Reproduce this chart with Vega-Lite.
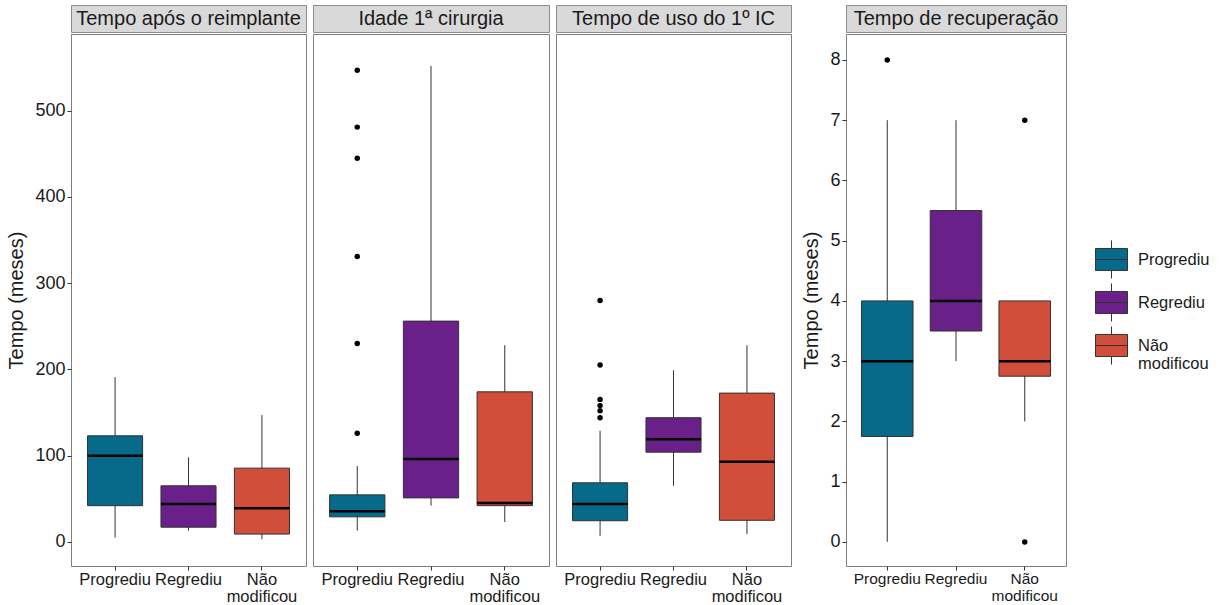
{
  "$schema": "https://vega.github.io/schema/vega-lite/v6.json",
  "padding": {"left": 6, "top": 4, "right": 5, "bottom": 0},
  "config": {
    "font": "Liberation Sans",
    "view": {"stroke": "#7f7f7f", "strokeWidth": 1},
    "axis": {"grid": false, "domain": false, "tickColor": "#333333", "tickSize": 4, "labelColor": "#1a1a1a", "titleColor": "#1a1a1a", "titleFontWeight": "normal", "titleFontSize": 20, "labelPadding": 1, "labelLineHeight": 17}
  },
  "datasets": {
    "caixas": [
      {"painel": "Tempo após o reimplante", "grupo": "Progrediu", "minimo": 5, "q1": 42, "mediana": 100, "q3": 123, "maximo": 191},
      {"painel": "Tempo após o reimplante", "grupo": "Regrediu", "minimo": 13, "q1": 17, "mediana": 44, "q3": 65, "maximo": 98},
      {"painel": "Tempo após o reimplante", "grupo": "Não modificou", "minimo": 3, "q1": 9, "mediana": 39, "q3": 85.5, "maximo": 147},
      {"painel": "Idade 1ª cirurgia", "grupo": "Progrediu", "minimo": 13, "q1": 29, "mediana": 35.5, "q3": 54.5, "maximo": 88},
      {"painel": "Idade 1ª cirurgia", "grupo": "Regrediu", "minimo": 42, "q1": 51, "mediana": 96, "q3": 256, "maximo": 552},
      {"painel": "Idade 1ª cirurgia", "grupo": "Não modificou", "minimo": 23, "q1": 42, "mediana": 45, "q3": 174, "maximo": 228},
      {"painel": "Tempo de uso do 1º IC", "grupo": "Progrediu", "minimo": 7, "q1": 24.5, "mediana": 44, "q3": 68.5, "maximo": 129},
      {"painel": "Tempo de uso do 1º IC", "grupo": "Regrediu", "minimo": 65, "q1": 104, "mediana": 119, "q3": 144, "maximo": 199},
      {"painel": "Tempo de uso do 1º IC", "grupo": "Não modificou", "minimo": 9, "q1": 25, "mediana": 93, "q3": 172.5, "maximo": 228},
      {"painel": "Tempo de recuperação", "grupo": "Progrediu", "minimo": 0, "q1": 1.75, "mediana": 3, "q3": 4, "maximo": 7},
      {"painel": "Tempo de recuperação", "grupo": "Regrediu", "minimo": 3, "q1": 3.5, "mediana": 4, "q3": 5.5, "maximo": 7},
      {"painel": "Tempo de recuperação", "grupo": "Não modificou", "minimo": 2, "q1": 2.75, "mediana": 3, "q3": 4, "maximo": 4}
    ],
    "atipicos": [
      {"painel": "Idade 1ª cirurgia", "grupo": "Progrediu", "valor": 547},
      {"painel": "Idade 1ª cirurgia", "grupo": "Progrediu", "valor": 481},
      {"painel": "Idade 1ª cirurgia", "grupo": "Progrediu", "valor": 445},
      {"painel": "Idade 1ª cirurgia", "grupo": "Progrediu", "valor": 331},
      {"painel": "Idade 1ª cirurgia", "grupo": "Progrediu", "valor": 230},
      {"painel": "Idade 1ª cirurgia", "grupo": "Progrediu", "valor": 126},
      {"painel": "Tempo de uso do 1º IC", "grupo": "Progrediu", "valor": 280},
      {"painel": "Tempo de uso do 1º IC", "grupo": "Progrediu", "valor": 205},
      {"painel": "Tempo de uso do 1º IC", "grupo": "Progrediu", "valor": 165},
      {"painel": "Tempo de uso do 1º IC", "grupo": "Progrediu", "valor": 158},
      {"painel": "Tempo de uso do 1º IC", "grupo": "Progrediu", "valor": 152},
      {"painel": "Tempo de uso do 1º IC", "grupo": "Progrediu", "valor": 144},
      {"painel": "Tempo de recuperação", "grupo": "Progrediu", "valor": 8},
      {"painel": "Tempo de recuperação", "grupo": "Não modificou", "valor": 7},
      {"painel": "Tempo de recuperação", "grupo": "Não modificou", "valor": 0}
    ],
    "paineis": [
      {"painel": "Tempo após o reimplante"},
      {"painel": "Idade 1ª cirurgia"},
      {"painel": "Tempo de uso do 1º IC"},
      {"painel": "Tempo de recuperação"}
    ]
  },
  "resolve": {"scale": {"x": "independent", "y": "independent"}},
  "spacing": 9,
  "hconcat": [
    {
      "spacing": 5,
      "resolve": {"scale": {"x": "independent", "y": "independent"}},
      "hconcat": [
        {
          "spacing": 0,
          "vconcat": [
            {
              "width": 235, "height": 27,
              "view": {"fill": "#d9d9d9", "stroke": "#8c8c8c"},
              "data": {"name": "paineis"},
              "transform": [{"filter": "datum.painel == 'Tempo após o reimplante'"}],
              "mark": {"type": "text", "fontSize": 20, "color": "#1a1a1a"},
              "encoding": {"text": {"field": "painel"}}
            },
            {
              "width": 235, "height": 532,
              "layer": [
                {
                  "data": {"name": "caixas"},
                  "transform": [{"filter": "datum.painel == 'Tempo após o reimplante'"}],
                  "layer": [
                    {"mark": {"type": "rule", "color": "#333333", "strokeWidth": 1},
                     "encoding": {"y": {"field": "minimo", "type": "quantitative"}, "y2": {"field": "maximo"}}},
                    {"mark": {"type": "bar", "width": {"band": 0.75}, "stroke": "#333333", "strokeWidth": 1, "opacity": 1},
                     "encoding": {"y": {"field": "q1", "type": "quantitative"}, "y2": {"field": "q3"},
                       "color": {"field": "grupo", "type": "nominal", "title": null, "scale": {"domain": ["Progrediu", "Regrediu", "Não modificou"], "range": ["#076a8b", "#6a2089", "#d04e3a"]},
                         "legend": {"title": null, "orient": "none", "legendX": 1024, "legendY": 238, "symbolType": "M-1,-0.69H1V0.69H-1Z M-1,0H1 M0,-0.69V-1.19 M0,0.69V1.19", "symbolSize": 1024, "symbolStrokeColor": "#333333", "symbolStrokeWidth": 1, "symbolOpacity": 1, "labelFontSize": 16.5, "labelColor": "#1a1a1a", "labelOffset": 10, "rowPadding": 0, "labelLineHeight": 18, "labelExpr": "datum.label == 'Não modificou' ? ['Não', 'modificou'] : datum.label"}}}},
                    {"mark": {"type": "tick", "color": "#000000", "thickness": 2.5, "size": 55, "opacity": 1},
                     "encoding": {"y": {"field": "mediana", "type": "quantitative"}}}
                  ]
                },
                {
                  "data": {"name": "atipicos"},
                  "transform": [{"filter": "datum.painel == 'Tempo após o reimplante'"}],
                  "mark": {"type": "point", "filled": true, "color": "#000000", "size": 30, "opacity": 1},
                  "encoding": {"y": {"field": "valor", "type": "quantitative"}}
                }
              ],
              "encoding": {
                "x": {"field": "grupo", "type": "nominal", "title": null, "sort": ["Progrediu", "Regrediu", "Não modificou"],
                  "scale": {"domain": ["Progrediu", "Regrediu", "Não modificou"], "paddingInner": 0, "paddingOuter": 0.1},
                  "axis": {"labelAngle": 0, "labelFontSize": 16.5, "bandPosition": 0.5, "labelExpr": "datum.label == 'Não modificou' ? ['Não', 'modificou'] : datum.label"}},
                "y": {"type": "quantitative", "scale": {"domain": [-28, 589], "nice": false, "zero": false},
                  "axis": {"values": [0, 100, 200, 300, 400, 500], "labelFontSize": 18, "labelPadding": 2, "title": "Tempo (meses)", "titlePadding": 8}}
              }
            }
          ]
        },
        {
          "spacing": 0,
          "vconcat": [
            {
              "width": 236, "height": 27,
              "view": {"fill": "#d9d9d9", "stroke": "#8c8c8c"},
              "data": {"name": "paineis"},
              "transform": [{"filter": "datum.painel == 'Idade 1ª cirurgia'"}],
              "mark": {"type": "text", "fontSize": 20, "color": "#1a1a1a"},
              "encoding": {"text": {"field": "painel"}}
            },
            {
              "width": 236, "height": 532,
              "layer": [
                {
                  "data": {"name": "caixas"},
                  "transform": [{"filter": "datum.painel == 'Idade 1ª cirurgia'"}],
                  "layer": [
                    {"mark": {"type": "rule", "color": "#333333", "strokeWidth": 1},
                     "encoding": {"y": {"field": "minimo", "type": "quantitative"}, "y2": {"field": "maximo"}}},
                    {"mark": {"type": "bar", "width": {"band": 0.75}, "stroke": "#333333", "strokeWidth": 1, "opacity": 1},
                     "encoding": {"y": {"field": "q1", "type": "quantitative"}, "y2": {"field": "q3"},
                       "color": {"field": "grupo", "type": "nominal", "title": null, "scale": {"domain": ["Progrediu", "Regrediu", "Não modificou"], "range": ["#076a8b", "#6a2089", "#d04e3a"]},
                         "legend": {"title": null, "orient": "none", "legendX": 1024, "legendY": 238, "symbolType": "M-1,-0.69H1V0.69H-1Z M-1,0H1 M0,-0.69V-1.19 M0,0.69V1.19", "symbolSize": 1024, "symbolStrokeColor": "#333333", "symbolStrokeWidth": 1, "symbolOpacity": 1, "labelFontSize": 16.5, "labelColor": "#1a1a1a", "labelOffset": 10, "rowPadding": 0, "labelLineHeight": 18, "labelExpr": "datum.label == 'Não modificou' ? ['Não', 'modificou'] : datum.label"}}}},
                    {"mark": {"type": "tick", "color": "#000000", "thickness": 2.5, "size": 55, "opacity": 1},
                     "encoding": {"y": {"field": "mediana", "type": "quantitative"}}}
                  ]
                },
                {
                  "data": {"name": "atipicos"},
                  "transform": [{"filter": "datum.painel == 'Idade 1ª cirurgia'"}],
                  "mark": {"type": "point", "filled": true, "color": "#000000", "size": 30, "opacity": 1},
                  "encoding": {"y": {"field": "valor", "type": "quantitative"}}
                }
              ],
              "encoding": {
                "x": {"field": "grupo", "type": "nominal", "title": null, "sort": ["Progrediu", "Regrediu", "Não modificou"],
                  "scale": {"domain": ["Progrediu", "Regrediu", "Não modificou"], "paddingInner": 0, "paddingOuter": 0.1},
                  "axis": {"labelAngle": 0, "labelFontSize": 16.5, "bandPosition": 0.5, "labelExpr": "datum.label == 'Não modificou' ? ['Não', 'modificou'] : datum.label"}},
                "y": {"type": "quantitative", "scale": {"domain": [-28, 589], "nice": false, "zero": false}, "axis": null}
              }
            }
          ]
        },
        {
          "spacing": 0,
          "vconcat": [
            {
              "width": 235, "height": 27,
              "view": {"fill": "#d9d9d9", "stroke": "#8c8c8c"},
              "data": {"name": "paineis"},
              "transform": [{"filter": "datum.painel == 'Tempo de uso do 1º IC'"}],
              "mark": {"type": "text", "fontSize": 20, "color": "#1a1a1a"},
              "encoding": {"text": {"field": "painel"}}
            },
            {
              "width": 235, "height": 532,
              "layer": [
                {
                  "data": {"name": "caixas"},
                  "transform": [{"filter": "datum.painel == 'Tempo de uso do 1º IC'"}],
                  "layer": [
                    {"mark": {"type": "rule", "color": "#333333", "strokeWidth": 1},
                     "encoding": {"y": {"field": "minimo", "type": "quantitative"}, "y2": {"field": "maximo"}}},
                    {"mark": {"type": "bar", "width": {"band": 0.75}, "stroke": "#333333", "strokeWidth": 1, "opacity": 1},
                     "encoding": {"y": {"field": "q1", "type": "quantitative"}, "y2": {"field": "q3"},
                       "color": {"field": "grupo", "type": "nominal", "title": null, "scale": {"domain": ["Progrediu", "Regrediu", "Não modificou"], "range": ["#076a8b", "#6a2089", "#d04e3a"]},
                         "legend": {"title": null, "orient": "none", "legendX": 1024, "legendY": 238, "symbolType": "M-1,-0.69H1V0.69H-1Z M-1,0H1 M0,-0.69V-1.19 M0,0.69V1.19", "symbolSize": 1024, "symbolStrokeColor": "#333333", "symbolStrokeWidth": 1, "symbolOpacity": 1, "labelFontSize": 16.5, "labelColor": "#1a1a1a", "labelOffset": 10, "rowPadding": 0, "labelLineHeight": 18, "labelExpr": "datum.label == 'Não modificou' ? ['Não', 'modificou'] : datum.label"}}}},
                    {"mark": {"type": "tick", "color": "#000000", "thickness": 2.5, "size": 55, "opacity": 1},
                     "encoding": {"y": {"field": "mediana", "type": "quantitative"}}}
                  ]
                },
                {
                  "data": {"name": "atipicos"},
                  "transform": [{"filter": "datum.painel == 'Tempo de uso do 1º IC'"}],
                  "mark": {"type": "point", "filled": true, "color": "#000000", "size": 30, "opacity": 1},
                  "encoding": {"y": {"field": "valor", "type": "quantitative"}}
                }
              ],
              "encoding": {
                "x": {"field": "grupo", "type": "nominal", "title": null, "sort": ["Progrediu", "Regrediu", "Não modificou"],
                  "scale": {"domain": ["Progrediu", "Regrediu", "Não modificou"], "paddingInner": 0, "paddingOuter": 0.1},
                  "axis": {"labelAngle": 0, "labelFontSize": 16.5, "bandPosition": 0.5, "labelExpr": "datum.label == 'Não modificou' ? ['Não', 'modificou'] : datum.label"}},
                "y": {"type": "quantitative", "scale": {"domain": [-28, 589], "nice": false, "zero": false}, "axis": null}
              }
            }
          ]
        }
      ]
    },
    {
      "spacing": 0,
      "vconcat": [
        {
          "width": 220, "height": 27,
          "view": {"fill": "#d9d9d9", "stroke": "#8c8c8c"},
          "data": {"name": "paineis"},
          "transform": [{"filter": "datum.painel == 'Tempo de recuperação'"}],
          "mark": {"type": "text", "fontSize": 20, "color": "#1a1a1a"},
          "encoding": {"text": {"field": "painel"}}
        },
        {
          "width": 220, "height": 532,
          "layer": [
            {
              "data": {"name": "caixas"},
              "transform": [{"filter": "datum.painel == 'Tempo de recuperação'"}],
              "layer": [
                {"mark": {"type": "rule", "color": "#333333", "strokeWidth": 1},
                 "encoding": {"y": {"field": "minimo", "type": "quantitative"}, "y2": {"field": "maximo"}}},
                {"mark": {"type": "bar", "width": {"band": 0.75}, "stroke": "#333333", "strokeWidth": 1, "opacity": 1},
                 "encoding": {"y": {"field": "q1", "type": "quantitative"}, "y2": {"field": "q3"},
                   "color": {"field": "grupo", "type": "nominal", "title": null, "scale": {"domain": ["Progrediu", "Regrediu", "Não modificou"], "range": ["#076a8b", "#6a2089", "#d04e3a"]},
                     "legend": {"title": null, "orient": "none", "legendX": 1024, "legendY": 238, "symbolType": "M-1,-0.69H1V0.69H-1Z M-1,0H1 M0,-0.69V-1.19 M0,0.69V1.19", "symbolSize": 1024, "symbolStrokeColor": "#333333", "symbolStrokeWidth": 1, "symbolOpacity": 1, "labelFontSize": 16.5, "labelColor": "#1a1a1a", "labelOffset": 10, "rowPadding": 0, "labelLineHeight": 18, "labelExpr": "datum.label == 'Não modificou' ? ['Não', 'modificou'] : datum.label"}}}},
                {"mark": {"type": "tick", "color": "#000000", "thickness": 2.5, "size": 51.5, "opacity": 1},
                 "encoding": {"y": {"field": "mediana", "type": "quantitative"}}}
              ]
            },
            {
              "data": {"name": "atipicos"},
              "transform": [{"filter": "datum.painel == 'Tempo de recuperação'"}],
              "mark": {"type": "point", "filled": true, "color": "#000000", "size": 30, "opacity": 1},
              "encoding": {"y": {"field": "valor", "type": "quantitative"}}
            }
          ],
          "encoding": {
            "x": {"field": "grupo", "type": "nominal", "title": null, "sort": ["Progrediu", "Regrediu", "Não modificou"],
              "scale": {"domain": ["Progrediu", "Regrediu", "Não modificou"], "paddingInner": 0, "paddingOuter": 0.1},
              "axis": {"labelAngle": 0, "labelFontSize": 15.5, "bandPosition": 0.5, "labelExpr": "datum.label == 'Não modificou' ? ['Não', 'modificou'] : datum.label"}},
            "y": {"type": "quantitative", "scale": {"domain": [-0.4, 8.43], "nice": false, "zero": false},
              "axis": {"values": [0, 1, 2, 3, 4, 5, 6, 7, 8], "labelFontSize": 18, "labelPadding": 2, "title": "Tempo (meses)", "titlePadding": 8}}
          }
        }
      ]
    }
  ]
}
